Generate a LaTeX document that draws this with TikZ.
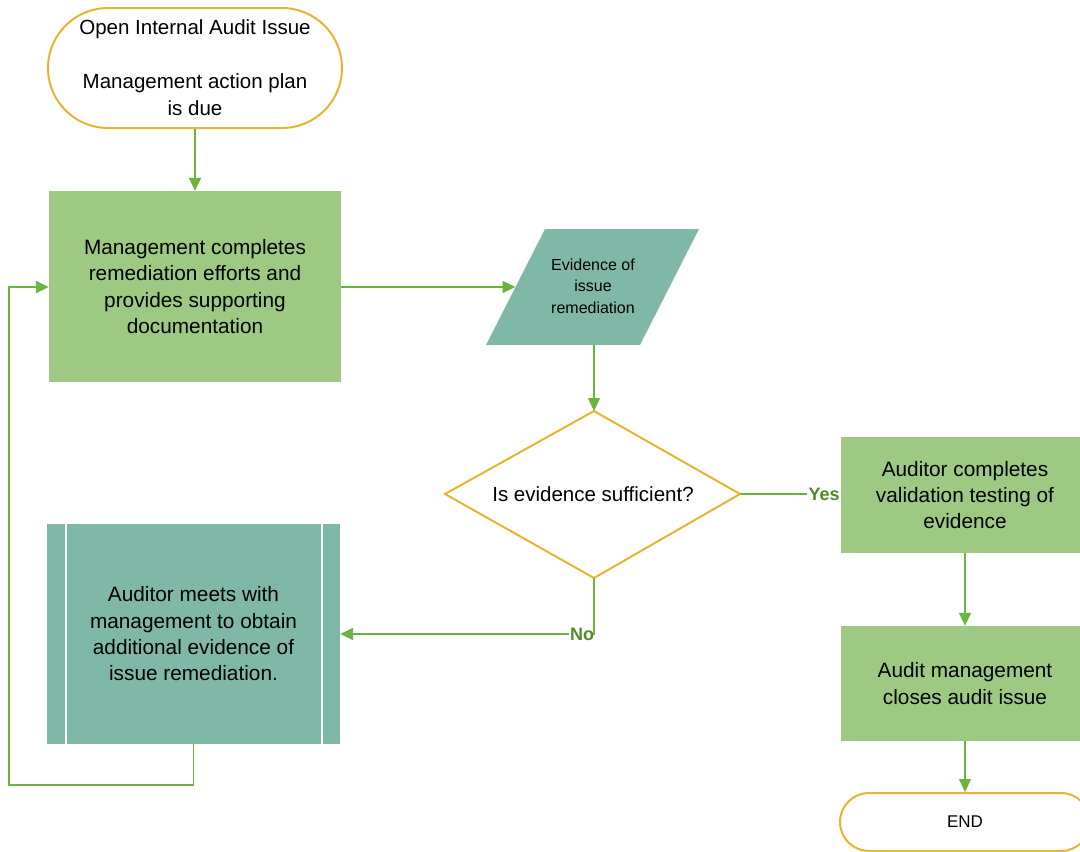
\documentclass[tikz,border=0pt]{standalone}
\usepackage{fontspec}
\setmainfont{Liberation Sans}
\usetikzlibrary{arrows.meta}
\definecolor{lgreen}{HTML}{9DC983}
\definecolor{teal2}{HTML}{80B8A8}
\definecolor{gold}{HTML}{E6B430}
\definecolor{agreen}{HTML}{6DB33F}
\definecolor{lblgreen}{HTML}{4C8A2A}
\begin{document}
\begin{tikzpicture}[x=1pt,y=-1pt,
  conn/.style={draw=agreen,line width=1.6pt,-{Triangle[length=13pt,width=12pt]}},
  plain/.style={draw=agreen,line width=1.6pt},
  term/.style={draw=gold,line width=2pt,fill=white,align=center,inner sep=0pt},
  procbox/.style={fill=lgreen,align=center,inner sep=0pt,font=\fontsize{20.8}{26.3}\selectfont},
  tealbox/.style={fill=teal2,align=center,inner sep=0pt},
  lbl/.style={text=lblgreen,font=\bfseries\fontsize{18}{20}\selectfont,inner sep=1pt}]
\useasboundingbox (0,0) rectangle (1080,852);
\clip (0,0) rectangle (1080,852);
% start terminator
\node[term,minimum width=294pt,minimum height=120pt,rounded corners=60pt,
  font=\fontsize{20.5}{27}\selectfont] (start) at (195,68)
  {Open Internal Audit Issue\\[27pt]Management action plan\\is due};
% box 1
\node[procbox,minimum width=292pt,minimum height=191pt] (mgmt) at (195,286.5)
  {Management completes\\remediation efforts and\\provides supporting\\documentation};
% parallelogram
\coordinate (pTL) at (545,229);
\coordinate (pTR) at (699,229);
\coordinate (pBR) at (640,345);
\coordinate (pBL) at (486,345);
\fill[teal2] (pTL) -- (pTR) -- (pBR) -- (pBL) -- cycle;
\node[align=center,font=\fontsize{16}{21.5}\selectfont] (evid) at (593,286) {Evidence of\\issue\\remediation};
\coordinate (pL) at (515.5,287);
\coordinate (pB) at (594,345);
% diamond
\coordinate (dT) at (594,411);
\coordinate (dR) at (740,494);
\coordinate (dB) at (594,578);
\coordinate (dL) at (445,494);
\draw[gold,line width=2pt,fill=white] (dT) -- (dR) -- (dB) -- (dL) -- cycle;
\node[font=\fontsize{20.5}{26}\selectfont] (dec) at (593,494) {Is evidence sufficient?};
% auditor validation
\node[procbox,minimum width=248pt,minimum height=116pt] (valid) at (965,495)
  {Auditor completes\\validation testing of\\evidence};
% closes
\node[procbox,minimum width=248pt,minimum height=115pt] (close) at (965,683.5)
  {Audit management\\closes audit issue};
% END
\node[term,minimum width=250pt,minimum height=58pt,rounded corners=29pt,
  font=\fontsize{17}{20}\selectfont] (end) at (965,822) {END};
% predefined process
\node[tealbox,minimum width=293pt,minimum height=220pt,font=\fontsize{20.8}{26.3}\selectfont] (meet) at (193.5,634)
  {Auditor meets with\\management to obtain\\additional evidence of\\issue remediation.};
\draw[white,line width=2pt] (66,524) -- (66,744) (322,524) -- (322,744);
% connectors
\draw[conn] (start.south) -- (mgmt.north);
\draw[conn] (mgmt.east |- pL) -- (pL);
\draw[conn] (pB) -- (dT);
\node[lbl,anchor=east] (yes) at (valid.west |- dR) {Yes};
\draw[plain] (dR) -- (yes.west);
\node[lbl] (no) at (582,634) {No};
\draw[plain] (dB) -- (594,634) -- (no.east);
\draw[conn] (no.west) -- (meet.east |- no);
\draw[conn] (valid.south) -- (close.north);
\draw[conn] (close.south) -- (end.north);
\coordinate (lp) at (9,785);
\draw[conn] (meet.south) |- (lp) |- (mgmt.west |- pL);
\end{tikzpicture}
\end{document}
